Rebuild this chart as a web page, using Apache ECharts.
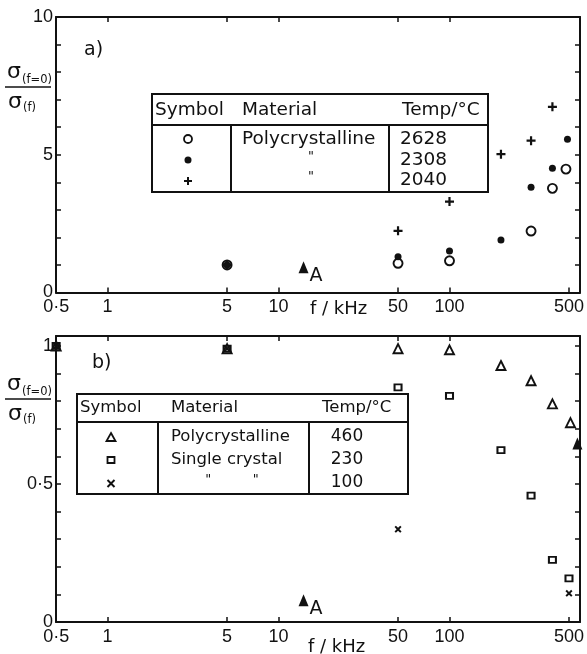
<!DOCTYPE html>
<html><head><meta charset="utf-8">
<script src="https://cdn.jsdelivr.net/npm/echarts@6/dist/echarts.min.js"></script>
<style>html,body{margin:0;padding:0;background:#fff}#c{width:587px;height:654px}</style>
</head><body><div id="c"></div>
<script>
// ---- axis ticks / labels ----
const xTickLabels = [0.5, 1, 5, 10, 50, 100, 500];
const xTickMarksBottom = [1, 5, 10, 50, 100, 500];
const xTickMarksTop = [1, 5, 10, 50, 100];
const yTopLabels = [0, 5, 10];
const yTopTicks = [0, 1, 2, 3, 4, 5, 6, 7, 8, 9, 10];
const yBotLabels = [0, 0.5, 1];
const yBotTicks = [0, 0.1, 0.2, 0.3, 0.4, 0.5, 0.6, 0.7, 0.8, 0.9, 1];

// ---- panel a) ----
const a2628F = [5, 50, 100, 300, 400, 480];
const a2628Y = [1.0, 1.06, 1.15, 2.23, 3.78, 4.48];
const a2308F = [5, 50, 100, 200, 300, 400, 490];
const a2308Y = [1.0, 1.30, 1.51, 1.91, 3.82, 4.51, 5.56];
const a2040F = [5, 50, 100, 200, 300, 400];
const a2040Y = [1.0, 2.24, 3.30, 5.02, 5.51, 6.74];
const aMarkF = [14];
const aMarkY = [0.92];
const aMarkLabel = ['A'];

// ---- panel b) ----
const b460F = [0.5, 5, 50, 100, 200, 300, 400, 510];
const b460Y = [1.0, 0.99, 0.99, 0.986, 0.929, 0.874, 0.79, 0.722];
const b230F = [0.5, 5, 50, 100, 200, 300, 400, 500];
const b230Y = [1.0, 0.99, 0.85, 0.819, 0.623, 0.458, 0.225, 0.158];
const b100F = [0.5, 5, 50, 500];
const b100Y = [1.0, 0.99, 0.336, 0.104];
const bMarkF = [14, 560];
const bMarkY = [0.079, 0.647];
const bMarkLabel = ['A', ''];

// ---- legend tables ----
const tableAHeader = ['Symbol', 'Material', 'Temp/°C'];
const tableAMaterial = ['Polycrystalline', '"', '"'];
const tableATemp = ['2628', '2308', '2040'];
const tableBHeader = ['Symbol', 'Material', 'Temp/°C'];
const tableBMaterial = ['Polycrystalline', 'Single crystal', '"          "'];
const tableBTemp = ['460', '230', '100'];

const INK = '#111';
const FONT = 'DejaVu Sans';
const TICKFONT = 'Liberation Sans';

const zip = (xs, ys) => xs.map((x, i) => [x, ys[i]]);
const PLUS = 'path://M3.4,0H5.6V3.4H9V5.6H5.6V9H3.4V5.6H0V3.4H3.4Z';

function xAxes(gridIndex) {
  const base = {
    type: 'log', logBase: 10, min: 0.499, max: 580, gridIndex,
    axisLine: { show: true, onZero: false, lineStyle: { color: INK, width: 2 } },
    splitLine: { show: false }, minorTick: { show: false }
  };
  return [
    Object.assign({}, base, {
      position: 'bottom',
      axisTick: { show: true, inside: true, length: 5, customValues: xTickMarksBottom, lineStyle: { color: INK, width: 1.5 } },
      axisLabel: {
        show: true, customValues: xTickLabels, margin: 6, color: INK, fontSize: 18, fontFamily: TICKFONT,
        formatter: v => (Math.abs(v - 0.5) < 1e-6 ? '0·5' : String(Math.round(v)))
      }
    }),
    Object.assign({}, base, {
      position: 'top',
      axisTick: { show: true, inside: true, length: 5, customValues: xTickMarksTop, lineStyle: { color: INK, width: 1.5 } },
      axisLabel: { show: false }
    })
  ];
}
function yAxes(gridIndex, max, labels, ticks) {
  const base = {
    type: 'value', min: 0, max, gridIndex,
    axisLine: { show: true, onZero: false, lineStyle: { color: INK, width: 2 } },
    splitLine: { show: false }
  };
  return [
    Object.assign({}, base, {
      position: 'left',
      axisTick: { show: true, inside: true, length: 5, customValues: ticks, lineStyle: { color: INK, width: 1.5 } },
      axisLabel: {
        show: true, customValues: labels, margin: 3, color: INK, fontSize: 18, fontFamily: TICKFONT,
        formatter: v => (Math.abs(v - 0.5) < 1e-6 ? '0·5' : String(v))
      }
    }),
    Object.assign({}, base, {
      position: 'right',
      axisTick: { show: true, inside: true, length: 5, customValues: ticks, lineStyle: { color: INK, width: 1.5 } },
      axisLabel: { show: false }
    })
  ];
}

const hollow = { color: 'rgba(255,255,255,0)', borderColor: INK, borderWidth: 1.9, opacity: 1 };
const filled = { color: INK, opacity: 1 };

function sc(name, xi, yi, data, symbol, size, style, rotate) {
  return { name, type: 'scatter', xAxisIndex: xi, yAxisIndex: yi, data, symbol, symbolSize: size,
    symbolRotate: rotate || 0, itemStyle: style, clip: false, silent: true, z: 3 };
}
function markSeries(name, xi, yi, fs, ys, labels) {
  return {
    name, type: 'scatter', xAxisIndex: xi, yAxisIndex: yi, symbol: 'triangle', symbolSize: [10, 12],
    itemStyle: filled, clip: false, silent: true, z: 3,
    data: fs.map((f, i) => ({ value: [f, ys[i]], label: { show: labels[i] !== '', formatter: labels[i] } })),
    label: { position: 'right', distance: 1, offset: [0, 9], color: INK, opacity: 1, fontSize: 19, fontFamily: FONT }
  };
}

// ---- graphic helpers ----
const G = [];
function txt(x, y, text, size, align, font) {
  G.push({ type: 'text', x, y, silent: true,
    style: { text, fontSize: size, fontFamily: font || FONT, fill: INK, align: align || 'left', verticalAlign: 'middle' } });
}
function ln(x1, y1, x2, y2, w) {
  G.push({ type: 'line', silent: true, shape: { x1, y1, x2, y2 }, style: { stroke: INK, lineWidth: w || 2 } });
}
function box(x, y, w, h) {
  G.push({ type: 'rect', silent: true, shape: { x, y, width: w, height: h }, style: { fill: 'none', stroke: INK, lineWidth: 2 } });
}

// table a
box(152, 94, 336, 98);
ln(152, 125, 488, 125);
ln(231, 125, 231, 192);
ln(389, 125, 389, 192);
txt(155, 110, tableAHeader[0], 18.5);
txt(242, 110, tableAHeader[1], 18.5);
txt(402, 110, tableAHeader[2], 18.5);
const rowA = [139, 160, 180];
txt(242, rowA[0], tableAMaterial[0], 18.5);
txt(311, rowA[1] - 3, tableAMaterial[1], 13, 'center');
txt(311, rowA[2] - 3, tableAMaterial[2], 13, 'center');
tableATemp.forEach((t, i) => txt(400, rowA[i], t, 18.5));
G.push({ type: 'circle', silent: true, shape: { cx: 188, cy: rowA[0], r: 4 }, style: { fill: 'none', stroke: INK, lineWidth: 1.8 } });
G.push({ type: 'circle', silent: true, shape: { cx: 188, cy: rowA[1], r: 3.5 }, style: { fill: INK } });
ln(184, rowA[2] + 1, 192, rowA[2] + 1, 2);
ln(188, rowA[2] - 3, 188, rowA[2] + 5, 2);

// table b
box(77, 394, 331, 100);
ln(77, 422, 408, 422);
ln(158, 422, 158, 494);
ln(309, 422, 309, 494);
txt(80, 408, tableBHeader[0], 16.5);
txt(171, 408, tableBHeader[1], 16.5);
txt(322, 408, tableBHeader[2], 16.5);
const rowB = [437, 460, 483];
txt(171, rowB[0], tableBMaterial[0], 16.5);
txt(171, rowB[1], tableBMaterial[1], 16.5);
txt(232, rowB[2] - 3, tableBMaterial[2], 13, 'center');
tableBTemp.forEach((t, i) => txt(347, rowB[i], t, 17, 'center'));
G.push({ type: 'polygon', silent: true, shape: { points: [[111, 433], [115.5, 441], [106.5, 441]] }, style: { fill: 'none', stroke: INK, lineWidth: 1.8 } });
G.push({ type: 'rect', silent: true, shape: { x: 107.5, y: 457, width: 7, height: 6 }, style: { fill: 'none', stroke: INK, lineWidth: 1.8 } });
ln(107.5, 480, 114.5, 487, 2);
ln(114.5, 480, 107.5, 487, 2);

// y-axis titles
function yTitle(lineY) {
  txt(7, lineY - 15, 'σ', 22);
  txt(22, lineY - 7, '(f=0)', 11.5);
  ln(5, lineY, 51, lineY, 1.5);
  txt(8, lineY + 15, 'σ', 22);
  txt(23, lineY + 21, '(f)', 11.5);
}
yTitle(87);
yTitle(399);

// panel labels & x titles
txt(84, 50, 'a)', 19);
txt(92, 363, 'b)', 19);
txt(310, 309, 'f / kHz', 18);
txt(308, 647, 'f / kHz', 18);

const option = {
  backgroundColor: '#fff',
  animation: false,
  grid: [
    { left: 56, top: 17, width: 525, height: 275.5 },
    { left: 56, top: 336, width: 525, height: 286 }
  ],
  xAxis: xAxes(0).concat(xAxes(1)),
  yAxis: yAxes(0, 10, yTopLabels, yTopTicks).concat(yAxes(1, 1.036, yBotLabels, yBotTicks)),
  series: [
    sc('2628', 0, 0, zip(a2628F, a2628Y), 'circle', 9, hollow),
    sc('2308', 0, 0, zip(a2308F, a2308Y), 'circle', 7, filled),
    sc('2040', 0, 0, zip(a2040F, a2040Y), PLUS, 9, filled),
    markSeries('A-a', 0, 0, aMarkF, aMarkY, aMarkLabel),
    sc('460', 2, 2, zip(b460F, b460Y), 'triangle', [9, 9], hollow),
    sc('230', 2, 2, zip(b230F, b230Y), 'rect', [7, 6], hollow),
    sc('100', 2, 2, zip(b100F, b100Y), PLUS, 8, filled, 45),
    markSeries('A-b', 2, 2, bMarkF, bMarkY, bMarkLabel)
  ],
  graphic: G
};
echarts.init(document.getElementById('c'), null, { renderer: 'canvas' }).setOption(option);
</script>
</body></html>
